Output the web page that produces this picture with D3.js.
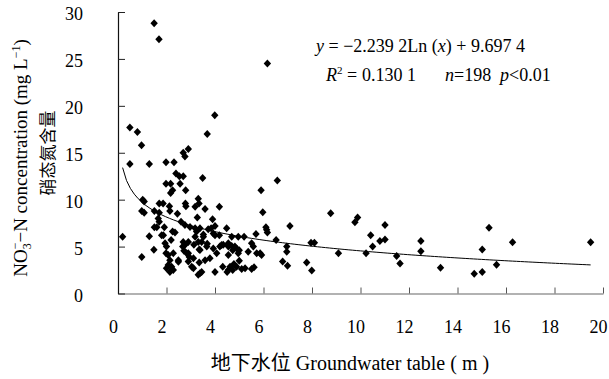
<!DOCTYPE html>
<html>
<head>
<meta charset="utf-8">
<script src="https://cdn.jsdelivr.net/npm/d3@7"></script>
<style>
  html, body { margin: 0; padding: 0; background: #fff; }
  svg { display: block; font-family: "Liberation Serif", "Times New Roman", "Noto Sans CJK SC", serif; }
</style>
</head>
<body>
<div id="chart"></div>
<script>
// groundwater table depth (m) and NO3-N concentration (mg/L)
const depth = [
  1.49, 1.69, 6.16, 0.49, 0.8, 0.97, 2.9, 3.68, 3.99, 2.69, 2.76, 0.49, 1.29, 1.98, 2.31,
  2.39, 2.53, 2.69, 2.56, 1.98, 2.17, 2.17, 2.25, 2.79, 3.49, 5.9, 6.57, 1.02, 1.08, 0.98,
  1.08, 1.5, 1.7, 1.86, 1.7, 1.66, 1.7, 2.12, 2.14, 2.45, 2.78, 2.8, 2.6, 2.76, 3.18,
  3.31, 3.34, 3.59, 4.18, 3.27, 3.9, 1.5, 1.6, 1.91, 2.35, 3.18, 3.24, 3.72, 4.0, 4.48,
  4.18, 4.0, 0.19, 1.29, 1.8, 1.87, 2.19, 2.69, 3.18, 3.52, 3.45, 3.13, 3.35, 3.66, 3.68,
  3.93, 4.07, 4.2, 4.34, 4.55, 4.73, 4.69, 4.89, 5.0, 5.51, 5.58, 5.86, 5.69, 5.97, 6.1,
  6.13, 1.48, 0.98, 1.94, 2.0, 1.98, 2.07, 2.14, 2.07, 2.0, 2.14, 2.28, 2.21, 2.28, 2.49,
  2.67, 2.72, 2.83, 2.94, 2.9, 3.11, 3.11, 3.35, 3.31, 3.38, 3.45, 3.59, 3.79, 4.0, 4.32,
  4.5, 4.62, 4.73, 4.78, 5.0, 5.1, 5.24, 5.51, 5.61, 5.37, 5.2, 4.69, 4.96, 6.16, 7.09,
  6.52, 5.92, 6.96, 6.96, 6.79, 6.99, 7.78, 7.99, 7.96, 8.1, 8.77, 9.09, 9.77, 9.88, 10.42,
  10.5, 10.23, 10.8, 11.01, 11.01, 11.49, 11.63, 12.49, 12.49, 13.3, 15.3, 15.02, 16.27, 19.49, 15.61,
  14.69, 15.02, 2.97, 3.38, 3.84, 3.52, 3.93, 2.9, 3.31, 4.27, 4.55, 4.82, 2.9, 3.38, 4.55,
  4.96, 5.72, 3.04, 4.55, 4.89, 2.25, 2.76, 2.49
];
const nitrate = [
  28.8, 27.1, 24.5, 17.7, 17.2, 15.8, 15.4, 17.0, 19.0, 15.0, 14.6, 13.8, 13.8, 14.0, 14.0,
  12.8, 12.5, 12.5, 11.7, 11.7, 11.7, 10.7, 11.0, 11.0, 12.3, 11.0, 12.05, 10.0, 9.8, 8.8,
  8.6, 8.8, 9.6, 9.6, 8.6, 8.0, 7.65, 9.3, 8.8, 8.5, 9.6, 9.3, 7.65, 7.3, 9.25,
  10.1, 9.6, 9.0, 9.25, 8.1, 7.9, 7.05, 7.05, 7.05, 6.5, 6.95, 6.6, 6.85, 7.2, 6.95,
  6.2, 6.2, 6.05, 6.1, 6.2, 6.2, 5.7, 5.5, 6.05, 6.05, 5.5, 5.2, 4.7, 5.0, 5.3,
  4.8, 4.3, 5.0, 5.2, 5.0, 4.6, 5.05, 4.8, 4.6, 5.35, 5.0, 4.3, 6.35, 8.65, 7.05,
  6.8, 4.65, 3.9, 5.35, 5.0, 4.3, 4.1, 3.55, 3.05, 2.7, 2.3, 2.5, 2.85, 4.3, 3.55,
  5.0, 4.55, 4.3, 3.9, 3.4, 3.75, 2.7, 3.3, 2.0, 2.15, 2.3, 3.55, 3.75, 2.3, 2.85,
  2.3, 2.85, 2.5, 3.15, 3.5, 2.6, 2.7, 2.6, 2.8, 4.45, 6.05, 6.05, 6.05, 6.5, 7.2,
  5.7, 4.1, 5.0, 4.45, 3.4, 2.95, 3.3, 2.45, 5.4, 5.4, 8.55, 4.3, 7.6, 8.1, 6.2,
  5.0, 4.3, 5.6, 5.75, 7.3, 4.0, 3.2, 5.6, 4.5, 2.75, 7.0, 4.7, 5.45, 5.45, 3.07,
  2.1, 2.3, 7.1, 6.95, 6.95, 6.3, 6.4, 5.5, 5.5, 5.17, 5.35, 5.0, 4.28, 4.63, 4.1,
  4.28, 4.28, 2.85, 2.5, 2.85, 6.6, 5.17, 3.39
];

const xTicks = [0, 2, 4, 6, 8, 10, 12, 14, 16, 18, 20];
const yTicks = [0, 5, 10, 15, 20, 25, 30];

// logarithmic fit shown on the chart: y = a*ln(x) + b
const fitA = -2.2392;
const fitB = 9.6974;

const W = 609, H = 379;
const svg = d3.select('#chart').append('svg').attr('width', W).attr('height', H);

const x = d3.scaleLinear().domain([0, 20]).range([118, 603]);
const y = d3.scaleLinear().domain([0, 30]).range([293.5, 12]);

// axes (ticks point inward, Excel-style)
const xAxis = svg.append('g')
  .attr('transform', `translate(0,${y(0)})`)
  .call(d3.axisBottom(x).tickValues(xTicks).tickSizeInner(-6).tickSizeOuter(0).tickFormat(d3.format('d')));
xAxis.select('.domain').attr('stroke', '#666').attr('stroke-width', 1.2);
xAxis.selectAll('.tick line').attr('stroke', '#555');
xAxis.selectAll('.tick text')
  .attr('y', 39).attr('dy', 0).attr('dx', -5)
  .attr('font-size', 18).attr('fill', '#000')
  .attr('font-family', '"Liberation Serif", serif');

const yAxis = svg.append('g')
  .attr('transform', `translate(${x(0)},0)`)
  .call(d3.axisLeft(y).tickValues(yTicks).tickSizeInner(-7).tickSizeOuter(0));
yAxis.select('.domain').attr('stroke', '#111').attr('stroke-width', 1.2);
yAxis.selectAll('.tick line').attr('stroke', '#222');
yAxis.selectAll('.tick text')
  .attr('x', -35).attr('dy', '0.42em')
  .attr('font-size', 18).attr('fill', '#000')
  .attr('font-family', '"Liberation Serif", serif');

// trend line from the fitted equation, over the data range
const [xmin, xmax] = d3.extent(depth);
const fitPts = d3.range(0, 121).map(i => {
  const xv = xmin + (xmax - xmin) * i / 120;
  return [xv, fitA * Math.log(xv) + fitB];
});
svg.append('path')
  .datum(fitPts)
  .attr('fill', 'none')
  .attr('stroke', '#000')
  .attr('stroke-width', 1)
  .attr('d', d3.line().x(d => x(d[0])).y(d => y(d[1])));

// diamond markers
const pts = depth.map((d, i) => ({ gw: d, no3: nitrate[i] }));
svg.append('g')
  .selectAll('path')
  .data(pts)
  .join('path')
  .attr('transform', d => `translate(${x(d.gw)},${y(d.no3)})`)
  .attr('d', 'M0,-4L3.7,0L0,4L-3.7,0Z')
  .attr('fill', '#000');

// equation text
const eq = svg.append('g').attr('font-size', 18).attr('fill', '#000');
const l1 = eq.append('text').attr('x', 316).attr('y', 52);
l1.append('tspan').attr('font-style', 'italic').text('y');
l1.append('tspan').text(' = \u22122.239 2Ln (');
l1.append('tspan').attr('font-style', 'italic').text('x');
l1.append('tspan').text(') + 9.697 4');

const l2 = eq.append('text').attr('y', 81);
l2.append('tspan').attr('x', 326).attr('font-style', 'italic').text('R');
l2.append('tspan').attr('font-size', 11).attr('dy', -7).text('2');
l2.append('tspan').attr('dy', 7).attr('x', 347).text('=');
l2.append('tspan').attr('x', 362).text('0.130 1');
l2.append('tspan').attr('x', 445).attr('font-style', 'italic').text('n');
l2.append('tspan').text('=198');
l2.append('tspan').attr('x', 500).attr('font-style', 'italic').text('p');
l2.append('tspan').text('<0.01');

// x axis title
svg.append('text')
  .attr('x', 350).attr('y', 370)
  .attr('text-anchor', 'middle')
  .attr('font-size', 20)
  .text('地下水位 Groundwater table ( m )');

// y axis title, two lines
const yt1 = svg.append('text')
  .attr('transform', 'translate(27,158) rotate(-90)')
  .attr('text-anchor', 'middle')
  .attr('font-size', 19);
yt1.append('tspan').text('NO');
yt1.append('tspan').attr('font-size', 12).attr('dy', 4).text('3');
yt1.append('tspan').attr('font-size', 12).attr('dy', -12).attr('dx', -6).text('\u2212');
yt1.append('tspan').attr('dy', 8).text('\u2212N concentration (mg L');
yt1.append('tspan').attr('font-size', 12).attr('dy', -7).text('\u22121');
yt1.append('tspan').attr('dy', 7).text(')');

const cnTitle = '硝态氮含量';
svg.append('text')
  .attr('transform', 'translate(54,153) rotate(-90)')
  .attr('text-anchor', 'middle')
  .attr('font-size', 17)
  .style('fill', '#000')
  .text(cnTitle);
</script>
</body>
</html>
